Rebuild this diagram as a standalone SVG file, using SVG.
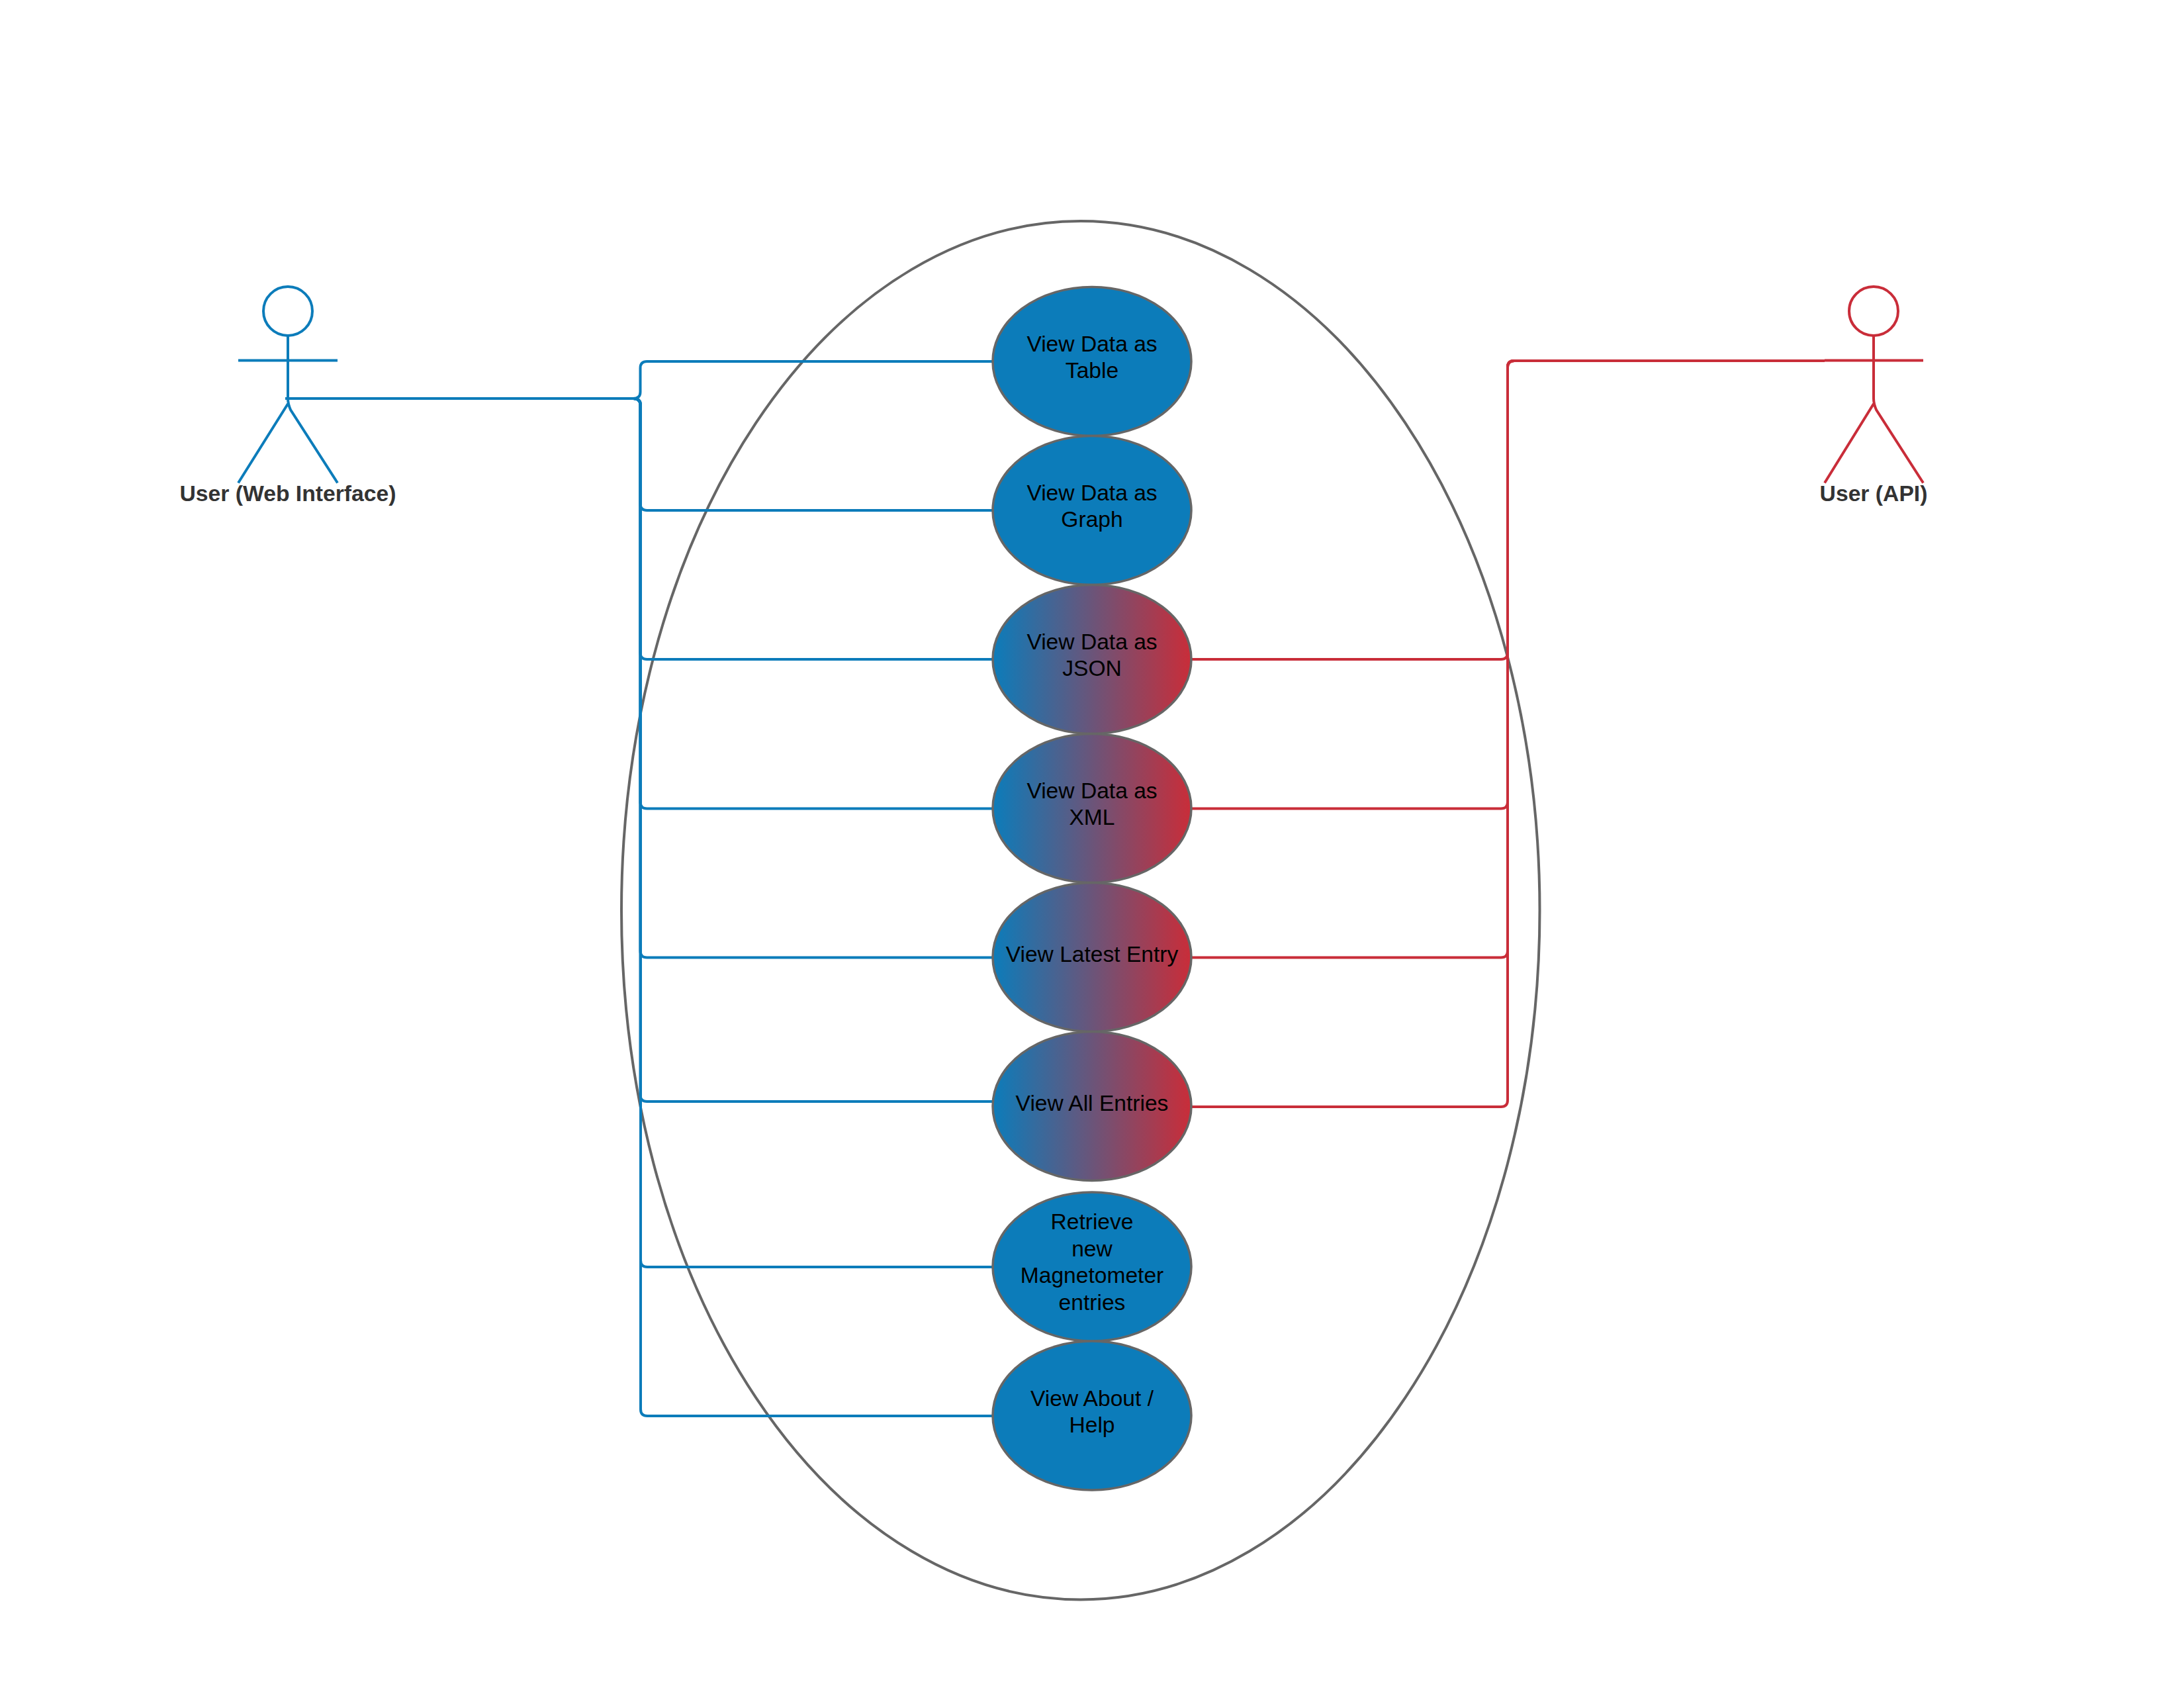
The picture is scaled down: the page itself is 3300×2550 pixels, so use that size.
<svg xmlns="http://www.w3.org/2000/svg" width="3300" height="2550" viewBox="0 0 3300 2550">
<style>
.uc{stroke:#666;stroke-width:3.5}
.solid{fill:#0c7cba}
.grad{fill:url(#bluered)}
.t{font:33.6px "Liberation Sans",Arial,sans-serif;fill:#000;text-anchor:middle}
.lab{font:bold 33.7px "Liberation Sans",Arial,sans-serif;fill:#333;text-anchor:middle}
.blue{fill:none;stroke:#0c7cba;stroke-width:4}
.red{fill:none;stroke:#c92d39;stroke-width:4}
.fig{fill:none;stroke-width:4}
</style>
<defs>
<linearGradient id="bluered" x1="0" y1="0" x2="1" y2="0"><stop offset="0" stop-color="#0c7cba"/><stop offset="1" stop-color="#c92d39"/></linearGradient>
</defs>
<rect width="3300" height="2550" fill="#fff"/>
<g id="boundary"><ellipse cx="1632.750" cy="1375.200" rx="693.750" ry="1041.200" fill="none" stroke="#666" stroke-width="4"/></g>
<g id="connectors">
<path class="blue" d="M431 602H957Q967.500 602 967.500 592V556Q967.500 546 977.500 546H1499"/>
<path class="blue" d="M431 602H957Q967.500 602 967.500 612V761Q967.500 771 977.500 771H1499"/>
<path class="blue" d="M431 602H957Q967.500 602 967.500 612V986Q967.500 996 977.500 996H1499"/>
<path class="blue" d="M431 602H957Q967.500 602 967.500 612V1211.500Q967.500 1221.500 977.500 1221.500H1499"/>
<path class="blue" d="M431 602H957Q967.500 602 967.500 612V1436.500Q967.500 1446.500 977.500 1446.500H1499"/>
<path class="blue" d="M431 602H957Q967.500 602 967.500 612V1654Q967.500 1664 977.500 1664H1499"/>
<path class="blue" d="M431 602H957Q968 602 968 612V1904Q968 1914 978 1914H1499"/>
<path class="blue" d="M431 602H957Q968 602 968 612V2129Q968 2139 978 2139H1499"/>
<path class="red" d="M2757 545H2288Q2278 545 2278 555V986Q2278 996 2268 996H1801"/>
<path class="red" d="M2757 545H2288Q2278 545 2278 555V1211.500Q2278 1221.500 2268 1221.500H1801"/>
<path class="red" d="M2757 545H2288Q2278 545 2278 555V1436.500Q2278 1446.500 2268 1446.500H1801"/>
<path class="red" d="M2757 545H2288Q2278 545 2278 555V1662Q2278 1672 2268 1672H1801"/>
</g>
<g id="actor-web" class="fig" stroke="#0c7cba">
<circle cx="435" cy="470" r="37"/>
<path d="M360 544.500H510M435 507V602Q435 610 439 619L510 729.500M435 610L360 729.500"/>
<text class="lab" x="435" y="757" stroke="none">User (Web Interface)</text>
</g>
<g id="actor-api" class="fig" stroke="#c92d39">
<circle cx="2831" cy="470" r="37"/>
<path d="M2757 544.500H2906M2831 507V602Q2831 610 2835 619L2906 729.500M2831 610L2757 729.500"/>
<text class="lab" x="2831" y="757" stroke="none">User (API)</text>
</g>
<g id="uc-table"><ellipse class="uc solid" cx="1650" cy="546" rx="150" ry="112.500"/><text class="t" x="1650" y="530.500">View Data as</text><text class="t" x="1650" y="571">Table</text></g>
<g id="uc-graph"><ellipse class="uc solid" cx="1650" cy="771" rx="150" ry="112.500"/><text class="t" x="1650" y="755.500">View Data as</text><text class="t" x="1650" y="796">Graph</text></g>
<g id="uc-json"><ellipse class="uc grad" cx="1650" cy="996" rx="150" ry="112.500"/><text class="t" x="1650" y="980.500">View Data as</text><text class="t" x="1650" y="1021">JSON</text></g>
<g id="uc-xml"><ellipse class="uc grad" cx="1650" cy="1221" rx="150" ry="112.500"/><text class="t" x="1650" y="1205.500">View Data as</text><text class="t" x="1650" y="1246">XML</text></g>
<g id="uc-latest"><ellipse class="uc grad" cx="1650" cy="1446" rx="150" ry="112.500"/><text class="t" x="1650" y="1452.500">View Latest Entry</text></g>
<g id="uc-all"><ellipse class="uc grad" cx="1650" cy="1671" rx="150" ry="112.500"/><text class="t" x="1650" y="1677.500">View All Entries</text></g>
<g id="uc-retrieve"><ellipse class="uc solid" cx="1650" cy="1913.500" rx="150" ry="112.500"/><text class="t" x="1650" y="1857">Retrieve</text><text class="t" x="1650" y="1897.500">new</text><text class="t" x="1650" y="1938">Magnetometer</text><text class="t" x="1650" y="1979">entries</text></g>
<g id="uc-about"><ellipse class="uc solid" cx="1650" cy="2138.500" rx="150" ry="112.500"/><text class="t" x="1650" y="2123.500">View About /</text><text class="t" x="1650" y="2164">Help</text></g>
</svg>
